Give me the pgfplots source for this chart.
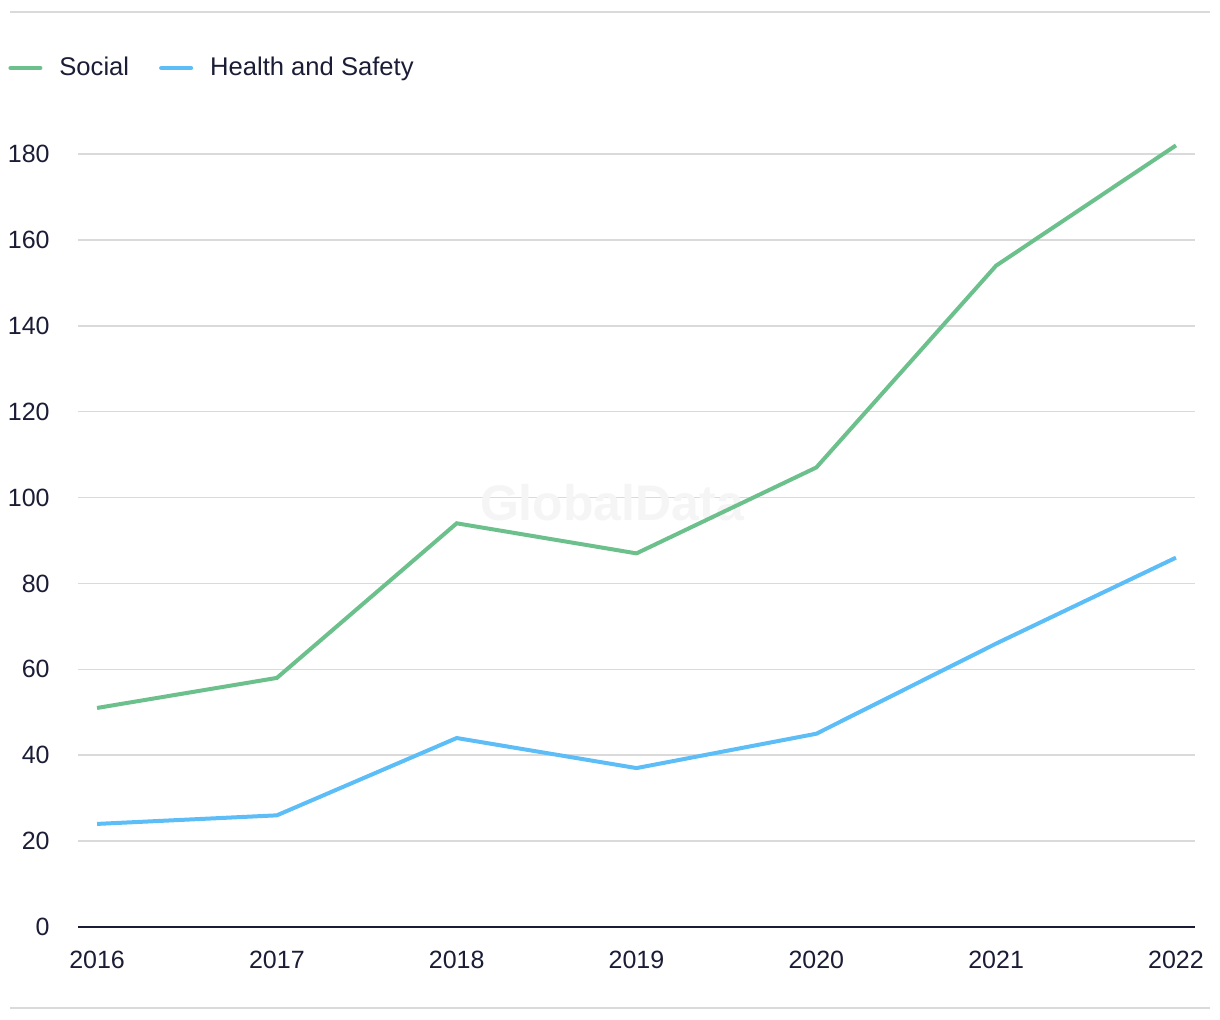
\documentclass[border=0pt]{standalone}
\usepackage{pgfplots}
\pgfplotsset{compat=1.18}
\usepackage{fontspec}
\setmainfont{Liberation Sans}
\definecolor{socialgreen}{HTML}{6CC08B}
\definecolor{hsblue}{HTML}{5CBDF7}
\definecolor{txt}{HTML}{1B1D36}
\definecolor{gridc}{HTML}{DADADA}
\begin{document}
\begin{tikzpicture}
\path[use as bounding box] (0,0) rectangle (610pt,510pt);
\draw[gridc, line width=1pt] (5pt,504pt) -- (605pt,504pt);
\draw[gridc, line width=1pt] (5pt,6pt) -- (605pt,6pt);
\begin{axis}[
  at={(39pt,46.5pt)}, anchor=south west,
  scale only axis,
  width=558.5pt, height=386.5pt,
  xmin=2015.894, xmax=2022.106,
  ymin=0, ymax=180,
  axis line style={draw=none},
  xtick={2016,2017,2018,2019,2020,2021,2022},
  ytick={0,20,40,60,80,100,120,140,160,180},
  ymajorgrids, grid style={gridc, line width=0.75pt},
  major tick length=0pt,
  /pgf/number format/1000 sep={},
  /pgf/number format/assume math mode=true,
  ticklabel style={font=\fontsize{12.5}{14}\selectfont, text=txt},
  yticklabel style={anchor=east, inner sep=0pt, xshift=-14pt},
  xticklabel style={anchor=north, inner sep=0pt, yshift=-12pt},
  legend style={at={(axis description cs:0,1)}, anchor=west, xshift=-38pt, yshift=43pt,
    draw=none, fill=none, font=\fontsize{12.8}{14}\selectfont, text=txt,
    legend columns=-1,
    /tikz/every odd column/.append style={column sep=6.5pt},
    /tikz/every even column/.append style={column sep=13pt}},
  legend image code/.code={\draw[#1, line width=2pt, line cap=round] (0pt,0pt) -- (15pt,0pt);},
  clip=false,
]
\node[text=black!4, font=\bfseries\fontsize{25}{30}\selectfont] at (axis cs:2018.864,98.7) {GlobalData};
\addplot[socialgreen, line width=2pt] coordinates {
(2016,51) (2017,58) (2018,94) (2019,87) (2020,107) (2021,154) (2022,182)};
\addlegendentry{Social}
\addplot[hsblue, line width=2pt] coordinates {
(2016,24) (2017,26) (2018,44) (2019,37) (2020,45) (2021,66) (2022,86)};
\addlegendentry{Health and Safety}
\draw[txt, line width=1pt] (rel axis cs:0,0) -- (rel axis cs:1,0);
\end{axis}
\end{tikzpicture}
\end{document}
